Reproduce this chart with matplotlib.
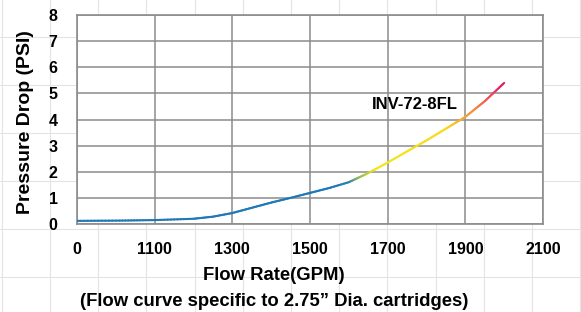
import numpy as np
import matplotlib.pyplot as plt
from matplotlib.collections import LineCollection
from matplotlib.colors import LinearSegmentedColormap

plt.rcParams['font.family'] = ['Liberation Sans', 'DejaVu Sans']
plt.rcParams['font.weight'] = 'bold'

# data
tick_flow = [0, 1100, 1300, 1500, 1700, 1900, 2100]
psi_ticks = [0, 1, 2, 3, 4, 5, 6, 7, 8]
flow = [0, 600, 1100, 1200, 1250, 1300, 1350, 1400, 1450, 1500, 1550, 1600,
        1650, 1700, 1750, 1800, 1850, 1900, 1950, 2000]
psi = [0.12, 0.13, 0.15, 0.2, 0.28, 0.42, 0.62, 0.82, 1.0, 1.19, 1.38, 1.6,
       1.95, 2.35, 2.78, 3.2, 3.65, 4.1, 4.7, 5.4]
series_name = "INV-72-8FL"

# colour stops along the flow axis
grad_flow = [1550, 1600, 1625, 1670, 1850, 1930, 2000]
grad_cols = ['#1f78b8', '#2f80b0', '#8ab85a', '#f5e51c', '#f8da1e', '#f4843e', '#e6126a']

W, H = 581, 312
fig = plt.figure(figsize=(W / 100, H / 100), dpi=100)

# faint spreadsheet grid behind everything
bg = fig.add_axes([0, 0, 1, 1], zorder=0)
bg.set_xlim(0, W)
bg.set_ylim(H, 0)
bg.axis('off')
for gx in np.arange(1.8, W, 48.2):
    bg.axvline(gx, color='#e4e4e4', lw=0.8)
for gy in np.arange(36.8, H, 48.1):
    bg.axhline(gy, color='#e4e4e4', lw=0.8)

ax = fig.add_axes([77 / W, 1 - 224 / H, (543 - 77) / W, (224 - 15) / H], zorder=1)
ax.set_facecolor('white')

pos = np.arange(len(tick_flow))
x = np.interp(flow, tick_flow, pos)
y = np.array(psi)

# split each segment into small pieces so the colour can fade along it
xs, ys, fs = [], [], []
for i in range(len(x) - 1):
    t = np.linspace(0, 1, 12, endpoint=False)
    xs.append(x[i] + (x[i + 1] - x[i]) * t)
    ys.append(y[i] + (y[i + 1] - y[i]) * t)
    fs.append(flow[i] + (flow[i + 1] - flow[i]) * t)
xs = np.append(np.concatenate(xs), x[-1])
ys = np.append(np.concatenate(ys), y[-1])
fs = np.append(np.concatenate(fs), flow[-1])

pts = np.column_stack([xs, ys]).reshape(-1, 1, 2)
segs = np.concatenate([pts[:-1], pts[1:]], axis=1)
lo, hi = grad_flow[0], grad_flow[-1]
cmap = LinearSegmentedColormap.from_list(
    'flowgrad', [((f - lo) / (hi - lo), c) for f, c in zip(grad_flow, grad_cols)])
mid = np.clip(((fs[:-1] + fs[1:]) / 2 - lo) / (hi - lo), 0, 1)
lc = LineCollection(segs, colors=cmap(mid), linewidth=1.5, capstyle='round', zorder=3)
ax.add_collection(lc)

ax.text(4.35, 4.56, series_name, ha='center', va='center', fontsize=12, fontweight='bold')

ax.set_xlim(0, 6)
ax.set_ylim(0, 8)
ax.set_xticks(pos)
ax.set_xticklabels([str(v) for v in tick_flow])
ax.set_yticks(psi_ticks)
ax.grid(True, color='#8c8c8c', lw=1.1)
ax.set_axisbelow(True)
for s in ax.spines.values():
    s.set_color('#8c8c8c')
    s.set_linewidth(1.2)
ax.tick_params(length=0, labelsize=11.5)
ax.tick_params(axis='x', pad=13)
ax.tick_params(axis='y', pad=14)

ax.set_ylabel("Pressure Drop (PSI)", fontsize=14, fontweight='bold')
ax.yaxis.set_label_coords(-0.093, 0.49)
fig.text(274 / W, 1 - 275 / H, "Flow Rate(GPM)", ha='center', va='center',
         fontsize=13.3, fontweight='bold')
fig.text(274 / W, 1 - 301 / H, "(Flow curve specific to 2.75\u201d Dia. cartridges)",
         ha='center', va='center', fontsize=13.3, fontweight='bold')

fig.savefig('out.png', dpi=100)
